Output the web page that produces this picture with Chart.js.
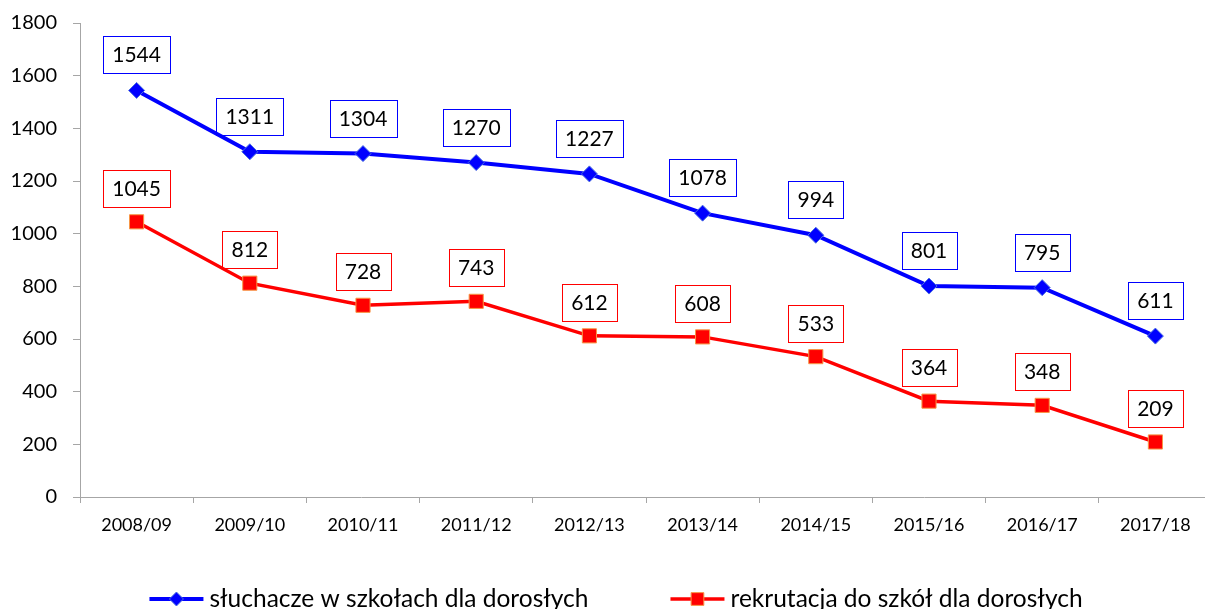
<!DOCTYPE html>
<html>
<head>
<meta charset="utf-8">
<script src="https://cdn.jsdelivr.net/npm/chart.js@4.4.1/dist/chart.umd.min.js"></script>
<style>
  html, body { margin: 0; padding: 0; overflow: hidden; background: #ffffff; }
  canvas { display: block; }
</style>
</head>
<body>
<canvas id="chart" width="1205" height="609"></canvas>
<script>
// School years on the category axis
const years = ['2008/09', '2009/10', '2010/11', '2011/12', '2012/13',
               '2013/14', '2014/15', '2015/16', '2016/17', '2017/18'];

// Students in schools for adults
const students = [1544, 1311, 1304, 1270, 1227, 1078, 994, 801, 795, 611];

// Recruitment to schools for adults
const recruitment = [1045, 812, 728, 743, 612, 608, 533, 364, 348, 209];

// Value axis
const yMin = 0;
const yMax = 1800;
const yStep = 200;

const seriesNames = ['słuchacze w szkołach dla dorosłych', 'rekrutacja do szkół dla dorosłych'];

const FONT = 'Lato, "Open Sans", "Noto Sans", sans-serif';
const AXIS_GRAY = '#a6a6a6';

// The plot runs slightly past the right edge of the canvas
const PLOT_RIGHT_OVERFLOW = 7;

// Boxed value labels above every point
const valueBoxes = {
  id: 'valueBoxes',
  beforeDatasetsDraw(chart) {
    const ctx = chart.ctx;
    ctx.save();
    ctx.font = '21px ' + FONT;
    chart.data.datasets.forEach((ds, i) => {
      const meta = chart.getDatasetMeta(i);
      meta.data.forEach((pt, j) => {
        const text = String(ds.data[j]);
        const w = Math.round(ctx.measureText(text).width + 18);
        const h = 37;
        const x = Math.round(pt.x - w / 2);
        const y = Math.round(pt.y - ds.labelGap - h);
        ctx.fillStyle = '#ffffff';
        ctx.fillRect(x, y, w, h);
        ctx.strokeStyle = ds.borderColor;
        ctx.lineWidth = 1;
        ctx.strokeRect(x + 0.5, y + 0.5, w, h);
        ctx.fillStyle = '#000000';
        ctx.textAlign = 'center';
        ctx.textBaseline = 'middle';
        ctx.fillText(text, pt.x, y + h / 2 + 1);
      });
    });
    ctx.restore();
  }
};

// Legend along the bottom: line sample with marker, then the series name
const bottomLegend = {
  id: 'bottomLegend',
  afterDraw(chart) {
    const ctx = chart.ctx;
    ctx.save();
    ctx.font = '24.5px ' + FONT;
    const sampleW = 54, textGap = 6, itemGap = 82;
    const cy = 599;
    const items = chart.data.datasets.map(ds => ({
      ds, w: sampleW + textGap + ctx.measureText(ds.label).width
    }));
    const total = items.reduce((s, it) => s + it.w, 0) + itemGap * (items.length - 1);
    let x = 616 - total / 2;
    items.forEach(({ ds, w }) => {
      ctx.strokeStyle = ds.borderColor;
      ctx.lineWidth = ds.borderWidth;
      ctx.beginPath();
      ctx.moveTo(x, cy);
      ctx.lineTo(x + sampleW, cy);
      ctx.stroke();
      ctx.fillStyle = ds.pointBackgroundColor;
      ctx.strokeStyle = ds.pointBorderColor;
      ctx.lineWidth = 1;
      Chart.helpers.drawPoint(ctx, {
        pointStyle: ds.pointStyle,
        radius: ds.legendRadius,
        borderWidth: 1,
        rotation: 0
      }, x + sampleW / 2, cy);
      ctx.fillStyle = '#000000';
      ctx.textAlign = 'left';
      ctx.textBaseline = 'alphabetic';
      ctx.fillText(ds.label, x + sampleW + textGap, 607);
      x += w + itemGap;
    });
    ctx.restore();
  }
};

// Extend the chart area to the right once the layout is done
const plotOverflow = {
  id: 'plotOverflow',
  afterLayout(chart) {
    const x = chart.scales.x;
    x.right += PLOT_RIGHT_OVERFLOW;
    x.width += PLOT_RIGHT_OVERFLOW;
    chart.chartArea.right += PLOT_RIGHT_OVERFLOW;
    chart.chartArea.width += PLOT_RIGHT_OVERFLOW;
    x.configure();
  }
};

function noScalePadding(scale) {
  scale.paddingLeft = 0;
  scale.paddingRight = 0;
  scale.paddingTop = 0;
  scale.paddingBottom = 0;
}

new Chart(document.getElementById('chart'), {
  type: 'line',
  data: {
    labels: years,
    datasets: [
      {
        label: seriesNames[0],
        data: students,
        borderColor: '#0000ff',
        borderWidth: 4,
        pointStyle: 'rectRot',
        pointRadius: 8,
        pointBackgroundColor: '#0000ff',
        pointBorderColor: '#4a6fe0',
        pointBorderWidth: 1,
        legendRadius: 7,
        labelGap: 17,
        tension: 0
      },
      {
        label: seriesNames[1],
        data: recruitment,
        borderColor: '#ff0000',
        borderWidth: 3.5,
        pointStyle: 'rect',
        pointRadius: 10,
        pointBackgroundColor: '#ff0000',
        pointBorderColor: '#f79646',
        pointBorderWidth: 1,
        legendRadius: 9,
        labelGap: 15,
        tension: 0
      }
    ]
  },
  options: {
    responsive: false,
    animation: false,
    events: [],
    layout: { autoPadding: false, padding: { top: 23, right: 0, bottom: 62, left: 0 } },
    plugins: {
      legend: { display: false },
      tooltip: { enabled: false }
    },
    scales: {
      x: {
        type: 'category',
        offset: true,
        grid: {
          offset: true,
          drawOnChartArea: false,
          drawTicks: true,
          tickLength: 6,
          color: AXIS_GRAY
        },
        border: { display: true, color: AXIS_GRAY, width: 1 },
        ticks: {
          color: '#000000',
          font: { family: FONT, size: 18 },
          padding: 11,
          maxRotation: 0,
          autoSkip: false
        },
        afterFit(scale) { scale.height = 50; noScalePadding(scale); }
      },
      y: {
        min: yMin,
        max: yMax,
        ticks: {
          stepSize: yStep,
          color: '#000000',
          font: { family: FONT, size: 20 },
          padding: 16,
          callback: (v) => String(v)
        },
        grid: {
          drawOnChartArea: false,
          drawTicks: true,
          tickLength: 7,
          color: AXIS_GRAY
        },
        border: { display: true, color: AXIS_GRAY, width: 1 },
        afterFit(scale) { scale.width = 80; noScalePadding(scale); }
      }
    }
  },
  plugins: [plotOverflow, valueBoxes, bottomLegend]
});
</script>
</body>
</html>
